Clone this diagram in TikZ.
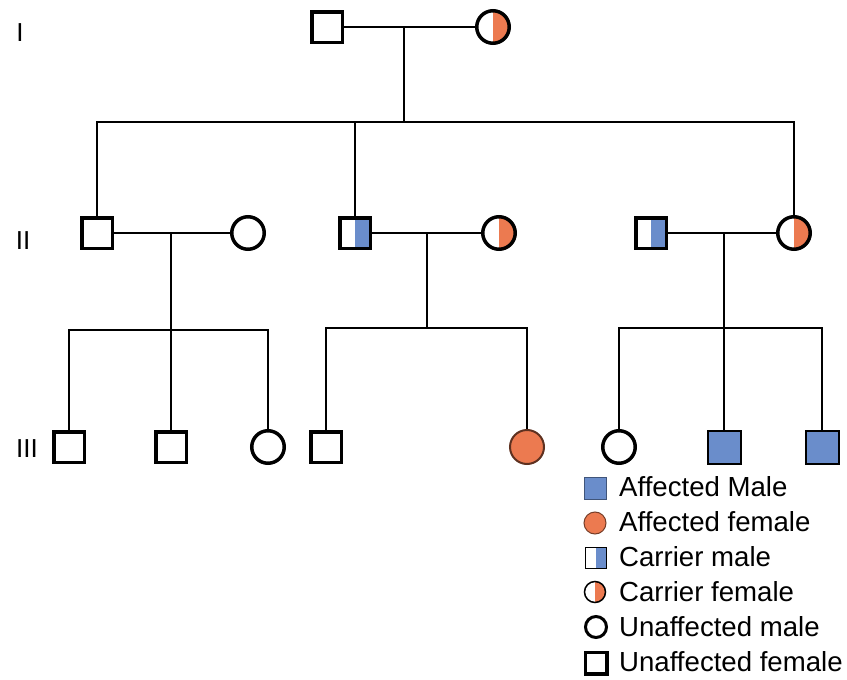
\documentclass[tikz,border=0pt]{standalone}
\usepackage{fontspec}
\setmainfont{Liberation Sans}
\usepackage{xcolor}
\definecolor{affblue}{HTML}{6A8DCB}
\definecolor{afforange}{HTML}{EC7A50}
\tikzset{
	person/.style={draw, inner sep=0pt, line width=3.5pt, fill=white},
	male/.style={person, rectangle, minimum size=30.5pt},
	female/.style={person, circle, minimum size=32.5pt},
	halffill/.style={path picture={\fill[#1] (path picture bounding box.north) rectangle (path picture bounding box.south east);}},
	link/.style={line width=2.5pt},
	gen/.style={font=\fontsize{26}{30}\selectfont},
	legtext/.style={anchor=base west, inner sep=0pt, font=\fontsize{27.6}{32}\selectfont}
}
\begin{document}
\begin{tikzpicture}[x=1pt, y=-1pt]
				\useasboundingbox (0, 0) rectangle (847, 680);
				
				%Generation labels
				\node[gen] (gI) at (20, 33) {I};
				\node[gen] (gII) at (23, 241) {II};
				\node[gen] (gIII) at (27, 449) {III};
				
				%Level I
				\node[male] (i1) at (327, 27) {};
				\node[female, halffill=afforange] (i2) at (493, 27) {};
				
				%Level II
				\node[male] (ii1) at (97, 233) {};
				\node[female] (ii2) at (248, 233) {};
				\node[male, halffill=affblue] (ii3) at (355, 233) {};
				\node[female, halffill=afforange] (ii4) at (499, 233) {};
				\node[male, halffill=affblue] (ii5) at (651, 233) {};
				\node[female, halffill=afforange] (ii6) at (794, 233) {};
				
				%Level III
				\node[male] (iii1) at (69, 447) {};
				\node[male] (iii2) at (171, 447) {};
				\node[female] (iii3) at (268, 447) {};
				\node[male] (iii4) at (326, 447) {};
				\node[female, fill=afforange, draw=afforange!40!black, line width=2pt, minimum size=34pt] (iii5) at (527, 447) {};
				\node[female] (iii6) at (619, 447) {};
				\node[male, fill=affblue, line width=2pt, minimum size=33pt] (iii7) at (724, 447) {};
				\node[male, fill=affblue, line width=2pt, minimum size=33pt] (iii8) at (822, 447) {};
				
				%Couples and sibling bars
				\coordinate (m1) at (404, 27);
				\coordinate (b1) at (404, 122);
				\coordinate (m2) at (171, 233);
				\coordinate (b2) at (171, 330);
				\coordinate (m3) at (427, 233);
				\coordinate (b3) at (427, 328);
				\coordinate (m4) at (724, 233);
				\coordinate (b4) at (724, 328);
				
				\draw[link] (i1) -- (i2);
				\draw[link] (m1) -- (b1);
				\draw[link] (ii1) |- (b1) -| (ii6);
				\draw[link] (ii3) |- (b1);
				
				\draw[link] (ii1) -- (ii2);
				\draw[link] (m2) -- (b2);
				\draw[link] (iii1) |- (b2) -| (iii3);
				\draw[link] (b2) -- (iii2);
				
				\draw[link] (ii3) -- (ii4);
				\draw[link] (m3) -- (b3);
				\draw[link] (iii4) |- (b3) -| (iii5);
				
				\draw[link] (ii5) -- (ii6);
				\draw[link] (m4) -- (b4);
				\draw[link] (iii6) |- (b4) -| (iii8);
				\draw[link] (b4) -- (iii7);
				
				%Legend
				\node[rectangle, draw=affblue!60!black, line width=1pt, fill=affblue, inner sep=0pt, minimum size=22pt] (k1) at (595, 488) {};
				\node[circle, draw=afforange!50!black, line width=1pt, fill=afforange, inner sep=0pt, minimum size=22pt] (k2) at (595, 523) {};
				\node[rectangle, draw, line width=1.5pt, fill=white, halffill=affblue, inner sep=0pt, minimum size=21pt] (k3) at (596, 558) {};
				\node[circle, draw, line width=1.5pt, fill=white, halffill=afforange, inner sep=0pt, minimum size=21pt] (k4) at (595, 592) {};
				\node[circle, draw, line width=3pt, inner sep=0pt, minimum size=21pt] (k5) at (596, 627) {};
				\node[rectangle, draw, line width=3.5pt, inner sep=0pt, minimum size=21.5pt] (k6) at (596, 663) {};
				
				\node[legtext] (t1) at (619, 496) {Affected Male};
				\node[legtext] (t2) at (619, 531) {Affected female};
				\node[legtext] (t3) at (619, 566) {Carrier male};
				\node[legtext] (t4) at (619, 601) {Carrier female};
				\node[legtext] (t5) at (619, 636) {Unaffected male};
				\node[legtext] (t6) at (619, 671) {Unaffected female};
			\end{tikzpicture}
\end{document}
